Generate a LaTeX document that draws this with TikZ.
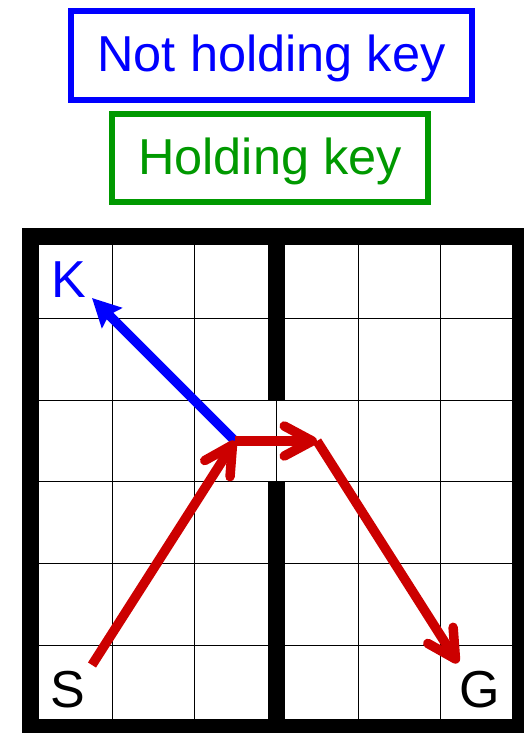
\documentclass[tikz,border=0pt]{standalone}
\usepackage{fontspec}
\setmainfont{Liberation Sans}
\usetikzlibrary{arrows.meta}
\definecolor{kblue}{RGB}{0,0,255}
\definecolor{kgreen}{RGB}{0,153,0}
\definecolor{kred}{RGB}{204,0,0}
\begin{document}
\begin{tikzpicture}[x=1pt,y=-1pt,
 legend/.style={draw,line width=6.5pt,inner sep=0pt,font=\fontsize{50.5}{60}\selectfont},
 celltext/.style={font=\fontsize{52}{60}\selectfont, anchor=base, inner sep=0pt},
 thingrid/.style={line width=1pt},
 wall/.style={line width=17pt},
 bluearrow/.style={kblue,line width=9.5pt,-{Stealth[length=28pt,width=28pt,inset=4pt]}},
 redarrow/.style={kred,line width=9.5pt,-{Straight Barb[length=28pt,width=30pt,round]}},
]
\useasboundingbox (0,0) rectangle (524,733);
% thin grid
\foreach \x in {112.5,194.5,276.5,358.5,440.5}
  \draw[thingrid] (\x,236.5) -- (\x,727.5);
\foreach \k in {1,...,5}
  \draw[thingrid] (30.5,{236.5+81.83*\k}) -- (520.5,{236.5+81.83*\k});
% walls
\draw[wall] (30.5,236.5) rectangle (520.5,727.5);
\draw[wall] (276.5,236.5) -- (276.5,400.2);
\draw[wall] (276.5,482) -- (276.5,727.5);
% legend boxes
\node[legend, kblue, minimum width=401pt, minimum height=89pt, text height=36pt, text depth=3pt] (notkey) at (271.5,55.5) {Not holding key};
\node[legend, kgreen, minimum width=316pt, minimum height=88pt, text height=36pt, text depth=4pt] (haskey) at (270,158) {Holding key};
% cell labels
\node[celltext,kblue] (K) at (69,297.5) {K};
\node[celltext] (S) at (68,707) {S};
\node[celltext] (G) at (480,707) {G};
% path points
\coordinate (start) at (92,665);
\coordinate (hub) at (235,441);
\coordinate (door) at (317,441);
\coordinate (goal) at (458,663);
\coordinate (keytip) at (92,298);
% arrows
\draw[bluearrow] (hub) -- (keytip);
\draw[redarrow] (start) -- (hub);
\draw[redarrow] (hub) -- (door);
\draw[redarrow] (door) -- (goal);
\end{tikzpicture}
\end{document}
